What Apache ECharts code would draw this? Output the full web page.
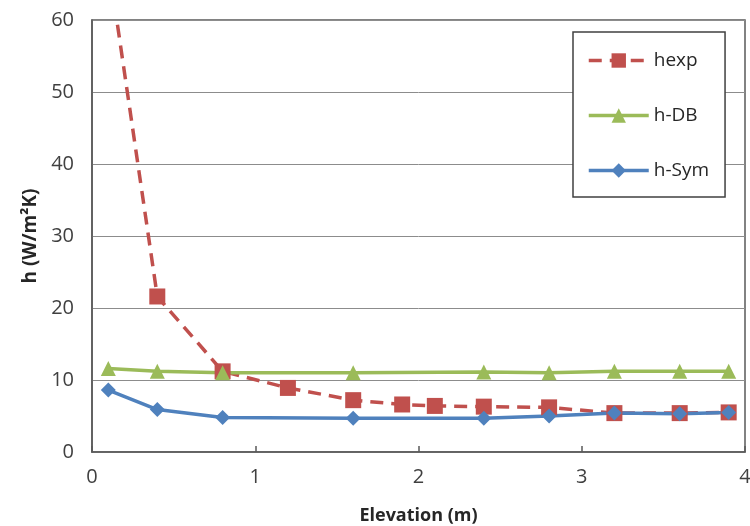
<!DOCTYPE html>
<html>
<head>
<meta charset="utf-8">
<script src="https://cdn.jsdelivr.net/npm/echarts@6/dist/echarts.min.js"></script>
<style>
  html, body { margin: 0; padding: 0; background: #fff; }
  #chart { width: 750px; height: 526px; }
</style>
</head>
<body>
<div id="chart"></div>
<script>
// elevation (m) and h values
const hexpX = [0.1, 0.4, 0.8, 1.2, 1.6, 1.9, 2.1, 2.4, 2.8, 3.2, 3.6, 3.9];
const hexpY = [68, 21.6, 11.2, 8.9, 7.2, 6.6, 6.4, 6.3, 6.2, 5.4, 5.4, 5.5];
const dbX = [0.1, 0.4, 0.8, 1.6, 2.4, 2.8, 3.2, 3.6, 3.9];
const dbY = [11.6, 11.2, 11.0, 11.0, 11.1, 11.0, 11.2, 11.2, 11.2];
const symX = [0.1, 0.4, 0.8, 1.6, 2.4, 2.8, 3.2, 3.6, 3.9];
const symY = [8.6, 5.9, 4.8, 4.7, 4.7, 5.0, 5.4, 5.3, 5.5];

const pairs = (xs, ys) => xs.map((x, i) => [x, ys[i]]);

const txt = "#404040";
const font = "'Open Sans', 'Liberation Sans', sans-serif";

const option = {
  animation: false,
  backgroundColor: "#fff",
  textStyle: { fontFamily: font },
  grid: {
    left: 92,
    right: 5,
    top: 20,
    bottom: 74,
    outerBoundsMode: "none",
    show: true,
    borderColor: "#595959",
    borderWidth: 1.5,
  },
  legend: {
    orient: "vertical",
    left: 573,
    top: 32,
    padding: [19, 16, 17, 14],
    itemWidth: 60,
    itemHeight: 18,
    itemGap: 36,
    backgroundColor: "#fff",
    borderColor: "#404040",
    borderWidth: 1.5,
    borderRadius: 0,
    lineStyle: { width: 3.5 },
    textStyle: { fontSize: 19, color: "#262626", fontFamily: font },
    data: ["hexp", "h-DB", "h-Sym"],
  },
  xAxis: {
    type: "value",
    min: 0,
    max: 4,
    interval: 1,
    name: "Elevation (m)",
    nameLocation: "middle",
    nameGap: 55,
    nameTextStyle: { fontSize: 18, fontWeight: "bold", color: "#262626" },
    axisLine: { show: true, lineStyle: { color: "#595959", width: 1.5 } },
    axisTick: { show: true, inside: true, length: 6, lineStyle: { color: "#595959", width: 1.5 } },
    axisLabel: { fontSize: 20, color: txt, margin: 15 },
    splitLine: { show: false },
  },
  yAxis: {
    type: "value",
    min: 0,
    max: 60,
    interval: 10,
    name: "h (W/m²K)",
    nameLocation: "middle",
    nameGap: 52,
    nameTextStyle: { fontSize: 19, fontWeight: "bold", color: "#262626" },
    axisLine: { show: true, lineStyle: { color: "#595959", width: 1.5 } },
    axisTick: { show: false },
    axisLabel: { fontSize: 20, color: txt, margin: 18 },
    splitLine: { show: true, lineStyle: { color: "#8c8c8c", width: 1 } },
  },
  series: [
    {
      name: "hexp",
      type: "line",
      data: pairs(hexpX, hexpY),
      symbol: "rect",
      symbolSize: 16,
      clip: true,
      itemStyle: { color: "#C0504D" },
      lineStyle: { color: "#C0504D", width: 3.5, type: [13, 8] },
    },
    {
      name: "h-DB",
      type: "line",
      data: pairs(dbX, dbY),
      symbol: "triangle",
      symbolSize: 15,
      itemStyle: { color: "#9BBB59" },
      lineStyle: { color: "#9BBB59", width: 3.5 },
    },
    {
      name: "h-Sym",
      type: "line",
      data: pairs(symX, symY),
      symbol: "diamond",
      symbolSize: 15,
      itemStyle: { color: "#4F81BD" },
      lineStyle: { color: "#4F81BD", width: 3.5 },
    },
  ],
};

const myChart = echarts.init(document.getElementById("chart"));
myChart.setOption(option);
</script>
</body>
</html>
